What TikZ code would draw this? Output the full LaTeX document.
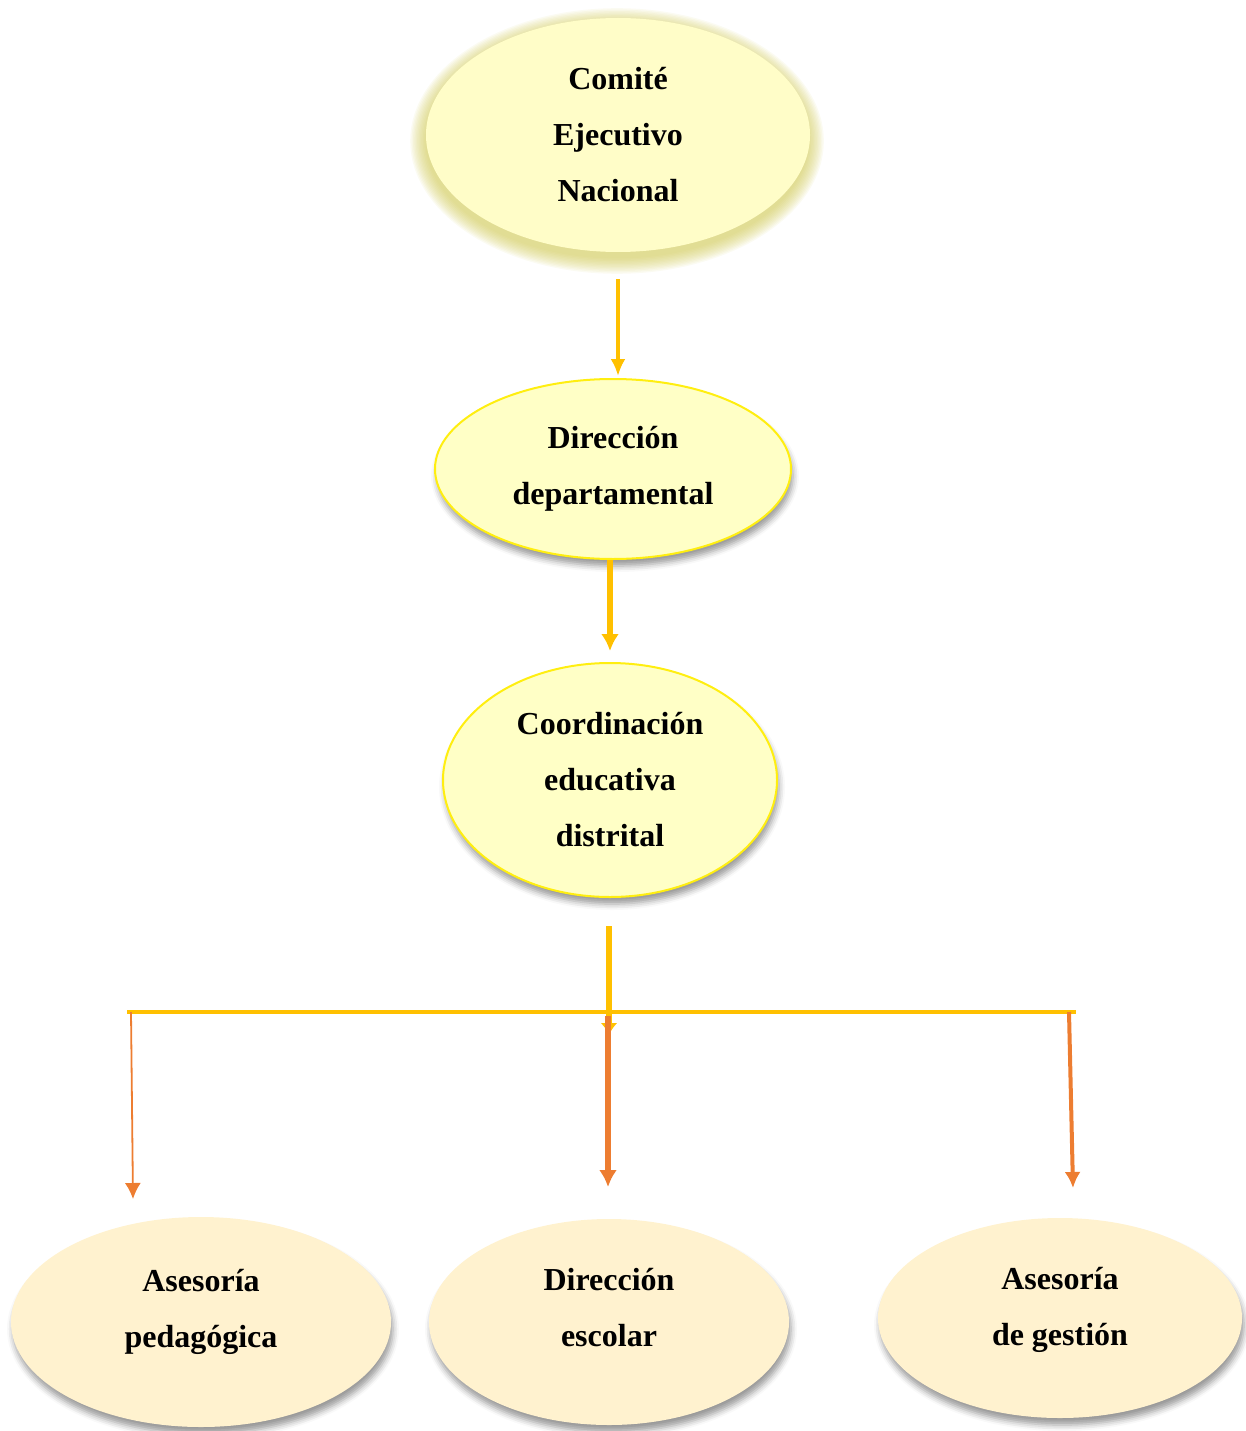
\documentclass[tikz,border=0pt]{standalone}
\usepackage{fontspec}
\setmainfont{Liberation Serif}
\usetikzlibrary{shapes.geometric}
\usetikzlibrary{arrows.meta}
\usetikzlibrary{shadows.blur}
\definecolor{topfill}{HTML}{FFFDC8}
\definecolor{topglow}{HTML}{CFC853}
\definecolor{midfill}{HTML}{FFFFC6}
\definecolor{midline}{HTML}{FFEE10}
\definecolor{lowfill}{HTML}{FFF2CF}
\definecolor{flowy}{HTML}{FFC000}
\definecolor{flowo}{HTML}{ED7D31}
\tikzset{%
  txt/.style={align=center, font=\fontsize{32}{56}\selectfont\bfseries},
  unit/.style={ellipse, inner sep=0pt, txt},
  shade/.style={blur shadow={shadow xshift=2pt, shadow yshift=-7pt, shadow blur radius=6pt}},
  mid/.style={unit, shade, fill=midfill, draw=midline, line width=2pt},
  low/.style={unit, shade, fill=lowfill},
  yflow/.style 2 args={draw=flowy, -{Latex[length=#1, width=#2]}},
  oflow/.style 2 args={draw=flowo, -{Latex[length=#1, width=#2]}}
}
\begin{document}
\begin{tikzpicture}[x=1pt, y=-1pt]

  \useasboundingbox (0,0) rectangle (1246,1431);

  % yellow glow behind the top unit
  \foreach \r in {1,...,12}
    \fill[topglow, opacity=0.08] (617,141) ellipse ({190+1.4*\r} and {116+1.4*\r});

  % the units
  \node[unit, fill=topfill, minimum width=384pt, minimum height=234pt] (cen) at (618,135)
    {Comité\\Ejecutivo\\Nacional};
  \node[mid, minimum width=356pt, minimum height=180pt] (dep) at (613,469)
    {Dirección\\departamental};
  \node[mid, minimum width=334pt, minimum height=234pt] (coo) at (610,780)
    {Coordinación\\educativa\\distrital};
  \node[low, minimum width=380pt, minimum height=210pt,
    label={[txt, yshift=10pt]center:{Asesoría\\pedagógica}}] (asp) at (201,1322) {};
  \node[low, minimum width=360pt, minimum height=206pt,
    label={[txt, yshift=14pt]center:{Dirección\\escolar}}] (dir) at (609,1322) {};
  \node[low, minimum width=364pt, minimum height=200pt,
    label={[txt, yshift=8pt]center:{Asesoría\\de gestión}}] (asg) at (1060,1318) {};

  % branch points
  \coordinate (busL) at (127,1012);
  \coordinate (busR) at (1076,1012);
  \coordinate (trunk) at (609,1035);
  \coordinate (pL) at (131,1012);
  \coordinate (tL) at (133,1199);
  \coordinate (pM) at (608,1016);
  \coordinate (tM) at (608,1187);
  \coordinate (pR) at (1069,1012);
  \coordinate (tR) at (1073,1188);

  % links down the chain
  \draw[yflow={17pt}{15pt}, line width=4pt] ([yshift=-27pt]cen.south) -- ([yshift=2pt]cen.south |- dep.north);
  \draw[yflow={17pt}{18pt}, line width=6pt] (dep.south -| coo.north) -- ([yshift=11pt]coo.north);

  % bus and trunk
  \draw[flowy, line width=4pt] (busL) -- (busR);
  \draw[yflow={12pt}{17pt}, line width=6pt] ([yshift=-28pt]coo.south -| trunk) -- (trunk);

  % links to the bottom row
  \draw[oflow={16pt}{16pt}, line width=1.8pt] (pL) -- (tL);
  \draw[oflow={17pt}{18pt}, line width=6pt] (pM) -- (tM);
  \draw[oflow={16pt}{16pt}, line width=4pt] (pR) -- (tR);

\end{tikzpicture}
\end{document}
